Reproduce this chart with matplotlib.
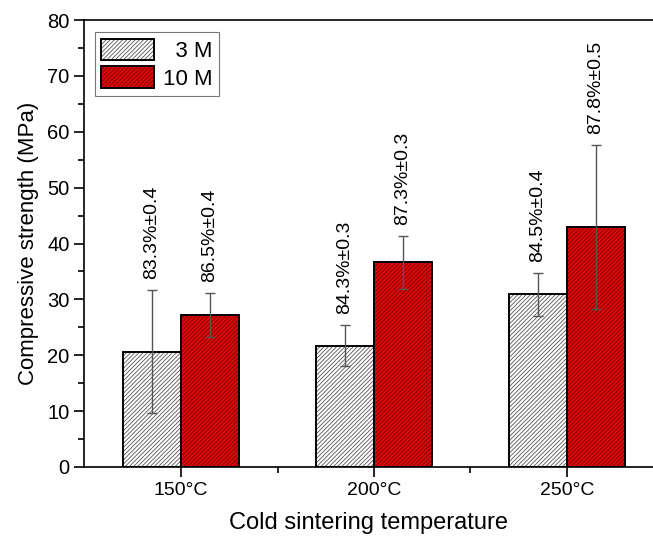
import numpy as np
import matplotlib
matplotlib.use("Agg")
import matplotlib.pyplot as plt
from matplotlib.ticker import MultipleLocator, FixedLocator
from matplotlib.legend_handler import HandlerTuple
from matplotlib.patches import Patch

temps = ["150°C", "200°C", "250°C"]
series = ["\u20073 M", "10 M"]
strength_3m = [20.6, 21.7, 30.9]
err_3m = [11.0, 3.7, 3.8]
strength_10m = [27.2, 36.6, 42.9]
err_10m = [3.9, 4.8, 14.7]
density_3m = ["83.3%±0.4", "84.3%±0.3", "84.5%±0.4"]
density_10m = ["86.5%±0.4", "87.3%±0.3", "87.8%±0.5"]

plt.rcParams["font.family"] = ["Liberation Sans", "DejaVu Sans"]
plt.rcParams["hatch.linewidth"] = 0.6

fig = plt.figure(figsize=(6.53, 5.41), dpi=100)
ax = fig.add_axes([84 / 653, 74 / 541, 569 / 653, 447 / 541])

x = np.arange(len(temps))
w = 0.30
hatch = "////////"
styles = [("white", "#555555"), ("#dd0a0a", "#7a0000")]
handles = []
for k, (vals, errs, labels) in enumerate([(strength_3m, err_3m, density_3m),
                                           (strength_10m, err_10m, density_10m)]):
    face, hcol = styles[k]
    pos = x + (k - 0.5) * w
    ax.bar(pos, vals, w, color=face, edgecolor=hcol, hatch=hatch, linewidth=0, zorder=2)
    ax.bar(pos, vals, w, fill=False, edgecolor="black", linewidth=1.4, zorder=3)
    ax.errorbar(pos, vals, yerr=errs, fmt="none", ecolor="#555555", elinewidth=1.0,
                capsize=3.5, capthick=1.0, zorder=4)
    for p, v, e, t in zip(pos, vals, errs, labels):
        ax.text(p, v + e + 2.0, t, rotation=90, ha="center", va="bottom", fontsize=14)
    handles.append((Patch(facecolor=face, edgecolor=hcol, hatch=hatch, linewidth=0),
                    Patch(fill=False, edgecolor="black", linewidth=1.4)))

ax.set_xlim(-0.503, 2.446)
ax.set_ylim(0, 80)
ax.set_xticks(x)
ax.set_xticklabels(temps)
ax.xaxis.set_minor_locator(FixedLocator([0.5, 1.5]))
ax.yaxis.set_major_locator(MultipleLocator(10))
ax.yaxis.set_minor_locator(MultipleLocator(5))
ax.tick_params(axis="both", which="major", direction="out", length=7, width=1.2, labelsize=14.5)
ax.tick_params(axis="both", which="minor", direction="out", length=4, width=1.2)
ax.tick_params(axis="x", labelsize=14)
ax.spines["right"].set_visible(False)
for s in ["left", "bottom", "top"]:
    ax.spines[s].set_linewidth(1.2)

ax.set_ylabel("Compressive strength (MPa)", fontsize=16, labelpad=6)
ax.set_xlabel("Cold sintering temperature", fontsize=17, labelpad=10)

leg = ax.legend(handles, series, handler_map={tuple: HandlerTuple(ndivide=1)},
                loc="upper left", bbox_to_anchor=(0.019, 0.973), fontsize=16,
                handlelength=2.35, handleheight=1.1, handletextpad=0.4,
                labelspacing=0.2, borderpad=0.3, borderaxespad=0.0,
                fancybox=False, edgecolor="#777777", framealpha=1)
leg.get_frame().set_linewidth(0.8)

fig.savefig("out.png", dpi=100)
